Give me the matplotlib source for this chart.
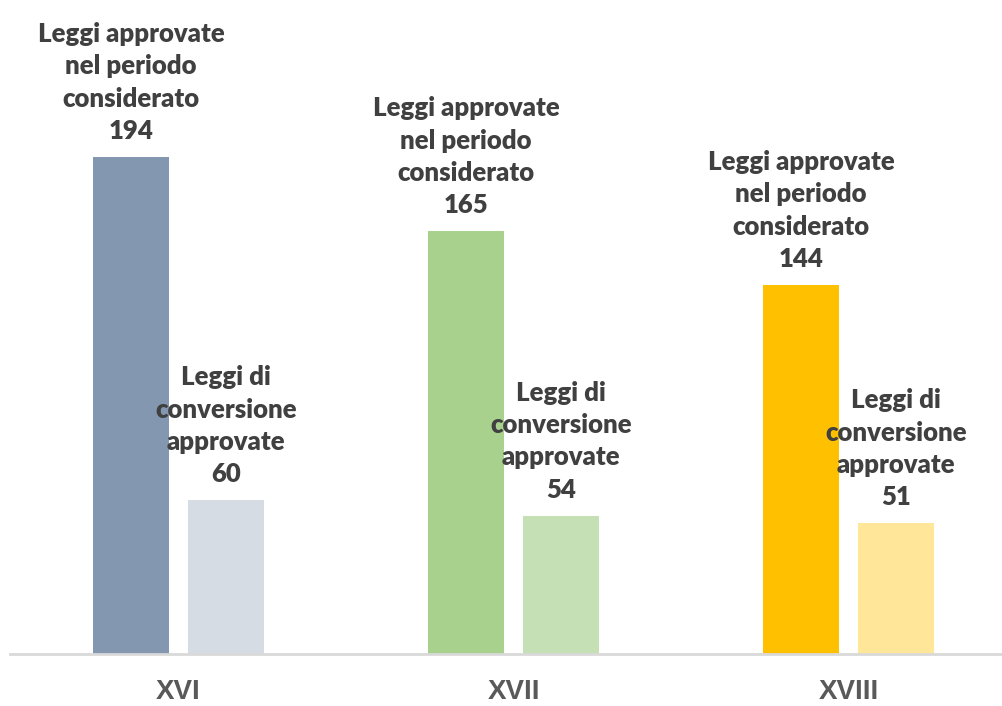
import matplotlib
matplotlib.use("Agg")
import matplotlib.pyplot as plt

categories = ["XVI", "XVII", "XVIII"]
leggi_approvate = [194, 165, 144]
leggi_conversione = [60, 54, 51]
label_approvate = "Leggi approvate\nnel periodo\nconsiderato"
label_conversione = "Leggi di\nconversione\napprovate"

dark_colors = ["#8497B0", "#A9D18E", "#FFC000"]
light_colors = ["#D6DCE4", "#C5E0B4", "#FFE699"]

fig = plt.figure(figsize=(10.02, 7.06), dpi=100)
ax = fig.add_axes([0.01, 0.0737, 0.99, 0.9263])
ax.set_ylim(0, 255.3)
ax.set_xlim(-0.503, 2.458)

w = 0.227
off = 0.1418
xs = list(range(len(categories)))
ax.bar([x - off for x in xs], leggi_approvate, width=w, color=dark_colors)
ax.bar([x + off for x in xs], leggi_conversione, width=w, color=light_colors)

tfont = dict(family="Lato", weight="heavy", size=18.5, color="#404040")
for x, v in zip(xs, leggi_approvate):
    ax.annotate(f"{label_approvate}\n{v}", (x - off, v), xytext=(0, 10),
                textcoords="offset points", ha="center", va="bottom",
                linespacing=1.42, annotation_clip=False, **tfont)
for x, v in zip(xs, leggi_conversione):
    ax.annotate(f"{label_conversione}\n{v}", (x + off, v), xytext=(0, 10),
                textcoords="offset points", ha="center", va="bottom",
                linespacing=1.42, annotation_clip=False, **tfont)

for s in ["top", "right", "left"]:
    ax.spines[s].set_visible(False)
ax.spines["bottom"].set_color("#D9D9D9")
ax.spines["bottom"].set_linewidth(2)
ax.set_yticks([])
ax.set_xticks(xs)
ax.set_xticklabels(categories, family="Liberation Sans", weight="bold",
                   size=20, color="#595959")
ax.tick_params(axis="x", length=0, pad=18)

fig.savefig("out.png", dpi=100)
